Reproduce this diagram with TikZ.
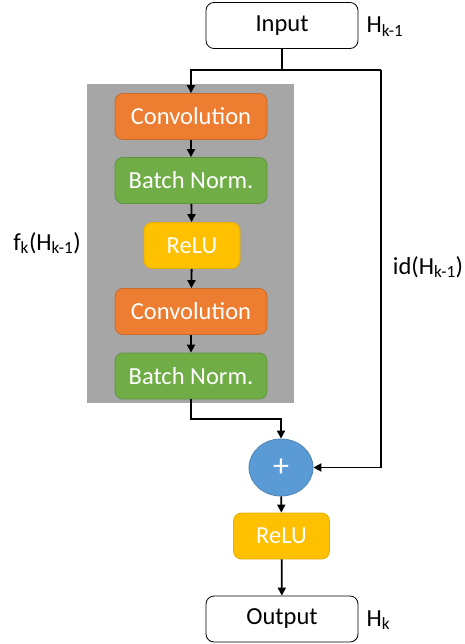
\documentclass[tikz,border=0pt]{standalone}
\usepackage{fontspec}
\setmainfont{Carlito}
\usetikzlibrary{arrows.meta,shapes.geometric}
\definecolor{convcol}{HTML}{ED7D31}
\definecolor{normcol}{HTML}{70AD47}
\definecolor{relucol}{HTML}{FFC000}
\definecolor{addcol}{HTML}{5B9BD5}
\definecolor{blockcol}{HTML}{A6A6A6}
\tikzset{
  layer/.style={rectangle, rounded corners=8pt, inner sep=0pt, minimum width=152pt, minimum height=46pt,
    text=white, font=\fontsize{24.5}{28}\selectfont, line width=0.8pt},
  conv/.style={layer, fill=convcol, draw=convcol!85!black},
  norm/.style={layer, fill=normcol, draw=normcol!85!black},
  relu/.style={layer, fill=relucol, draw=relucol!90!black, minimum width=96pt},
  io/.style={layer, fill=white, draw=black, text=black},
  lbl/.style={font=\fontsize{24.5}{28}\selectfont},
  flow/.style={line width=1.8pt, -{Triangle[length=8pt,width=8pt]}}
}
\begin{document}
\begin{tikzpicture}[x=1pt,y=-1pt]
  \useasboundingbox (0,0) rectangle (464,644);
  \fill [blockcol] (87,84) rectangle (294,403);
  \node [io] (input) at (282,25.5) {Input};
  \node [lbl,anchor=west] (hin) at (363,27) {H\textsubscript{k-1}};
  \node [conv] (conv1) at (191,116.5) {Convolution};
  \node [norm] (bn1) at (191,180.5) {Batch Norm.};
  \node [relu] (relu1) at (192,245.5) {ReLU};
  \node [conv] (conv2) at (191,311.5) {Convolution};
  \node [norm] (bn2) at (191,376) {Batch Norm.};
  \node [ellipse, fill=addcol, draw=addcol!85!black, line width=0.8pt, minimum width=64pt, minimum height=57pt,
    inner sep=0pt, text=white, font=\fontsize{32}{32}\selectfont] (plus) at (281,467.5) {+};
  \node [relu] (relu2) at (281.5,536) {ReLU};
  \node [io] (output) at (282,619) {Output};
  \node [lbl,anchor=west] (hout) at (363,620) {H\textsubscript{k}};
  \node [lbl] (flabel) at (47,243) {f\textsubscript{k}(H\textsubscript{k-1})};
  \node [lbl] (idlabel) at (428,267) {id(H\textsubscript{k-1})};
  \coordinate (split) at (282,70);
  \coordinate (skip) at (381,70);
  \coordinate (join) at (191,419);
  \draw [line width=1.8pt] (input) -- (split);
  \draw [flow] (split) -| (conv1);
  \draw [line width=1.8pt] (split) -- (skip);
  \draw [flow] (skip) |- (plus);
  \draw [flow] (conv1) -- (bn1);
  \draw [flow] (bn1) -- (relu1);
  \draw [flow] (relu1) -- (conv2);
  \draw [flow] (conv2) -- (bn2);
  \draw [flow] (bn2) -- (join) -| (plus);
  \draw [flow] (plus) -- (relu2);
  \draw [flow] (relu2) -- (output);
\end{tikzpicture}
\end{document}
